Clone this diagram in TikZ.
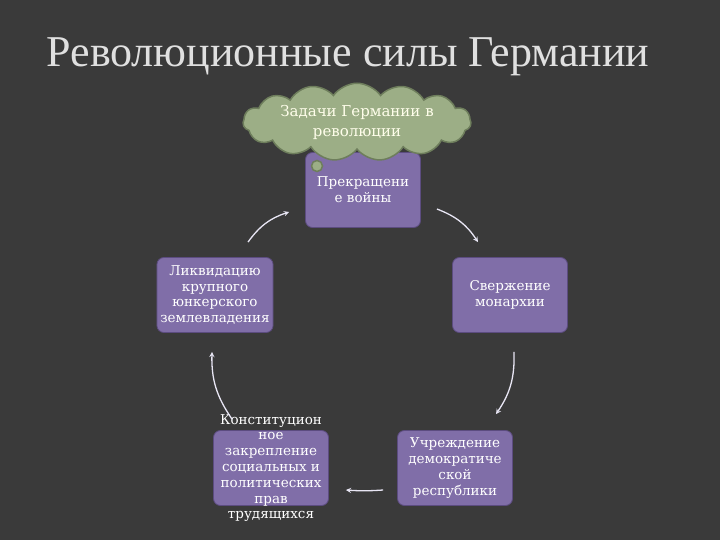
\documentclass[tikz,border=0pt]{standalone}
\usepackage{fontspec}
\setmainfont{DejaVu Serif}
\newfontfamily\titlefont{Liberation Serif}
\usetikzlibrary{shapes.symbols,arrows,positioning}
\definecolor{slate}{RGB}{58,58,58}
\definecolor{lilac}{RGB}{128,110,168}
\definecolor{lilacdark}{RGB}{92,76,128}
\definecolor{sage}{RGB}{156,174,134}
\definecolor{sagedark}{RGB}{110,126,92}
\definecolor{pale}{RGB}{232,230,244}
\tikzstyle{task} = [rectangle, rounded corners=7pt, minimum width=115pt, minimum height=75pt, fill=lilac, draw=lilacdark, line width=0.8pt]
\tikzstyle{tasktext} = [text=white, align=center, font=\fontsize{13.5}{15.8}\selectfont]
\tikzstyle{thought} = [fill=sage, draw=sagedark, line width=1.5pt]
\tikzstyle{cyc} = [pale, line width=1.3pt, -stealth, bend left=18]

\begin{document}
\begin{tikzpicture}[x=1pt,y=-1pt]

%% background
\fill[slate] (0,0) rectangle (720,540);
\useasboundingbox (0,0) rectangle (720,540);

% title
\node[font=\titlefont\fontsize{44}{48}\selectfont, text=white!88!black] (title) at (348,57) {Революционные силы Германии};

% top
\node[task, tasktext] (war) at (363,190) {Прекращени\\е войны};

% cloud over the top box
\node[cloud, thought, cloud puffs=15, cloud puff arc=110, aspect=4,
      minimum width=228pt, minimum height=62pt, inner sep=1pt,
      align=center, text=white!92!yellow, font=\fontsize{15}{20}\selectfont] (goal) at (357,122) {Задачи Германии в\\революции};
\fill[thought] (317,166) circle (5.5);

% right
\node[task, tasktext] (mon) at (510,295) {Свержение\\монархии};

% bottom right
\node[task, tasktext] (rep) at (455,468) {Учреждение\\демократиче\\ской\\республики};

% bottom left -- text runs out of the box
\node[task] (con) at (271,468) {};
\node[tasktext] (contxt) at (con) {Конституцион\\ное\\закрепление\\социальных и\\политических\\прав\\трудящихся};

% left
\node[task, tasktext] (liq) at (215,295) {Ликвидацию\\крупного\\юнкерского\\землевладения};

%% cycle arrows
\draw[cyc] ([shift={(16,19)}]war.east) to ([shift={(-32,-15)}]mon.north);
\draw[cyc] ([shift={(4,19)}]mon.south) to ([shift={(41,-16)}]rep.north);
\draw[cyc, bend left=4] ([shift={(-14,22)}]rep.west) to ([shift={(17,22)}]con.east);
\draw[cyc] ([shift={(-39,-11)}]con.north) to ([shift={(-3,19)}]liq.south);
\draw[cyc] ([shift={(33,-15)}]liq.north) to ([shift={(-16,22)}]war.west);

\end{tikzpicture}
\end{document}
